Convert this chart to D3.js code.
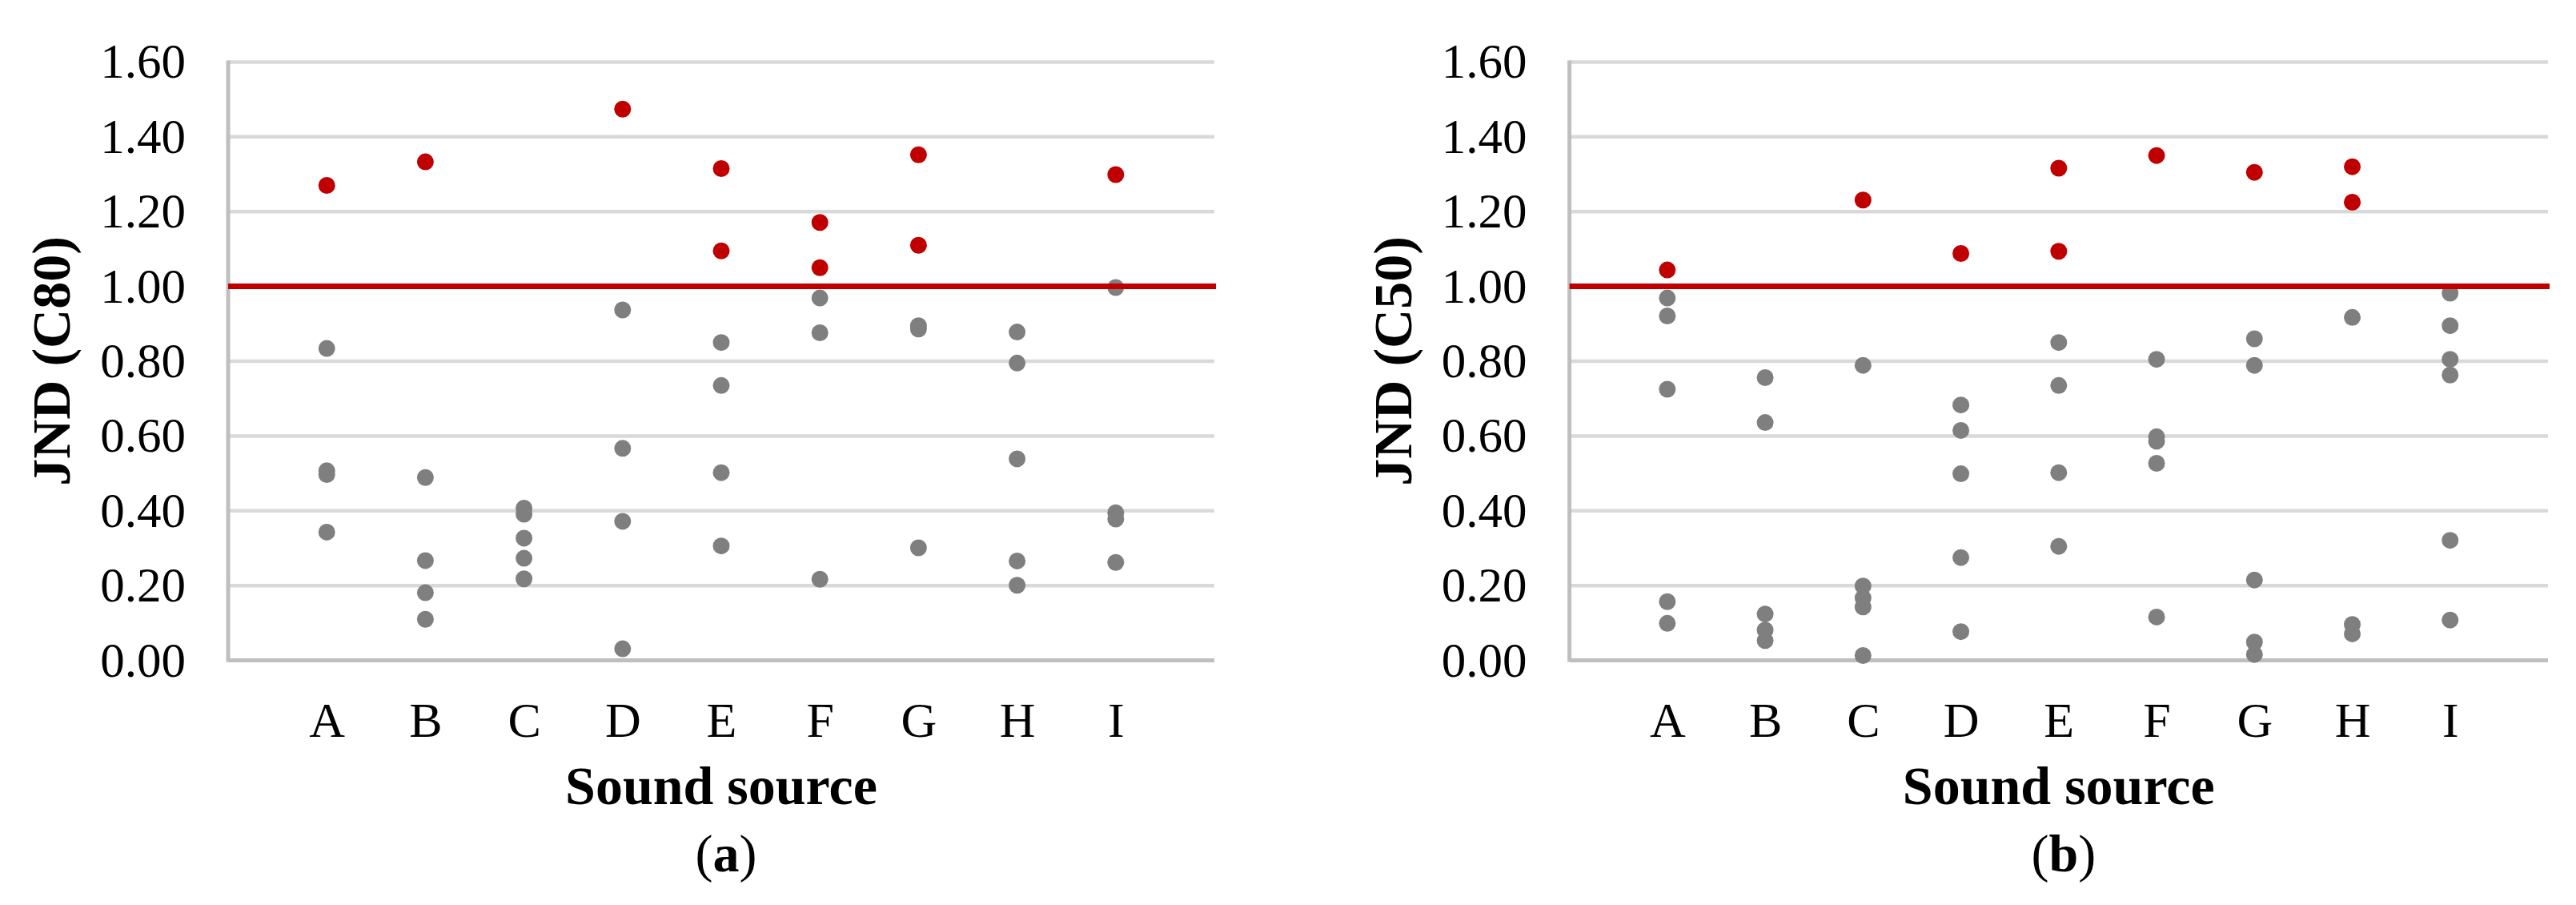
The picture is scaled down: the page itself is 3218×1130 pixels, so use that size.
<!DOCTYPE html>
<html>
<head>
<meta charset="utf-8">
<script src="https://cdnjs.cloudflare.com/ajax/libs/d3/7.8.5/d3.min.js"></script>
<style>
    html, body { margin: 0; padding: 0; background: #fff; }
    svg { display: block; }
    text { font-family: "Liberation Serif", "Times New Roman", serif; fill: #000; }
</style>
</head>
<body>
<svg id="chart" width="3218" height="1130"></svg>
<script>
// sound sources along the x axis
var categories = ["A", "B", "C", "D", "E", "F", "G", "H", "I"];
var yTicks = [0, 0.2, 0.4, 0.6, 0.8, 1.0, 1.2, 1.4, 1.6];
var threshold = 1.0;

// JND values per sound source, panel (a)
var jndC80 = [
    [1.270, 0.834, 0.507, 0.497, 0.343],
    [1.333, 0.489, 0.267, 0.181, 0.110],
    [0.407, 0.391, 0.327, 0.273, 0.218],
    [1.474, 0.937, 0.567, 0.372, 0.031],
    [1.315, 1.095, 0.850, 0.735, 0.502, 0.306],
    [1.171, 1.050, 0.969, 0.876, 0.217],
    [1.352, 1.110, 0.895, 0.886, 0.301],
    [0.878, 0.795, 0.539, 0.266, 0.201],
    [1.299, 0.997, 0.395, 0.378, 0.262]
];

// panel (b)
var jndC50 = [
    [1.044, 0.969, 0.921, 0.725, 0.157, 0.099],
    [0.756, 0.636, 0.124, 0.081, 0.053],
    [1.231, 0.789, 0.199, 0.167, 0.143, 0.013],
    [1.088, 0.683, 0.615, 0.499, 0.275, 0.077],
    [1.316, 1.094, 0.850, 0.735, 0.502, 0.305],
    [1.350, 0.805, 0.598, 0.586, 0.527, 0.116],
    [1.305, 0.860, 0.789, 0.215, 0.049, 0.016],
    [1.320, 1.225, 0.917, 0.096, 0.071],
    [0.982, 0.895, 0.805, 0.763, 0.321, 0.108]
];

var svg = d3.select("#chart");
var font = '"Liberation Serif", "Times New Roman", serif';
var plotTop = 77.4, plotBottom = 824.6;
var y = d3.scaleLinear().domain([0, 1.6]).range([plotBottom, plotTop]);

var drawPanel = function(values, x0, x1, yTitle, letter) {
    var x = d3.scalePoint().domain(categories).range([x0, x1]).padding(1);
    var g = svg.append("g");
    var midX = (x0 + x1) / 2;

    // horizontal gridlines
    g.selectAll(".grid")
        .data(yTicks.filter(d => d > 0))
        .enter().append("line")
        .attr("x1", x0).attr("x2", x1)
        .attr("y1", d => y(d)).attr("y2", d => y(d))
        .style("stroke", "#d9d9d9").style("stroke-width", 4.5);

    // axis lines
    g.append("line")
        .attr("x1", x0).attr("x2", x0)
        .attr("y1", y(1.6) - 2).attr("y2", y(0) + 2)
        .style("stroke", "#bfbfbf").style("stroke-width", 5);
    g.append("line")
        .attr("x1", x0).attr("x2", x1)
        .attr("y1", y(0)).attr("y2", y(0))
        .style("stroke", "#bfbfbf").style("stroke-width", 5);

    // y tick labels
    var yAxis = g.append("g")
        .attr("transform", "translate(" + x0 + ",0)")
        .call(d3.axisLeft(y).tickValues(yTicks).tickFormat(d3.format(".2f")).tickSize(0).tickPadding(53));
    yAxis.select(".domain").remove();
    yAxis.selectAll("text")
        .style("font-family", font).style("font-size", "61px");

    // category labels
    var xAxis = g.append("g")
        .attr("transform", "translate(0," + y(0) + ")")
        .call(d3.axisBottom(x).tickSize(0).tickPadding(51));
    xAxis.select(".domain").remove();
    xAxis.selectAll("text")
        .style("font-family", font).style("font-size", "62px");

    // points
    var points = [];
    values.forEach((arr, i) => {
        arr.forEach(v => points.push({ cat: categories[i], value: v }));
    });
    g.selectAll(".dot")
        .data(points)
        .enter().append("circle")
        .attr("cx", d => x(d.cat))
        .attr("cy", d => y(d.value))
        .attr("r", 10.5)
        .style("fill", d => d.value > threshold ? "#c00000" : "#7f7f7f");

    // threshold line at JND = 1
    g.append("line")
        .attr("x1", x0).attr("x2", x1 + 2)
        .attr("y1", y(threshold)).attr("y2", y(threshold))
        .style("stroke", "#c00000").style("stroke-width", 7);

    // axis titles
    g.append("text")
        .attr("transform", "translate(" + (x0 - 198) + "," + ((plotTop + plotBottom) / 2) + ") rotate(-90)")
        .attr("text-anchor", "middle")
        .style("font-size", "68px").style("font-weight", "bold")
        .text(yTitle);

    g.append("text")
        .attr("x", midX).attr("y", 1004)
        .attr("text-anchor", "middle")
        .style("font-size", "68px").style("font-weight", "bold")
        .text("Sound source");

    var sub = g.append("text")
        .attr("x", midX + 6).attr("y", 1088)
        .attr("text-anchor", "middle")
        .style("font-size", "66px");
    sub.append("tspan").text("(");
    sub.append("tspan").style("font-weight", "bold").text(letter);
    sub.append("tspan").text(")");
};

drawPanel(jndC80, 285, 1517, "JND (C80)", "a");
drawPanel(jndC50, 1960.6, 3183, "JND (C50)", "b");
</script>
</body>
</html>
